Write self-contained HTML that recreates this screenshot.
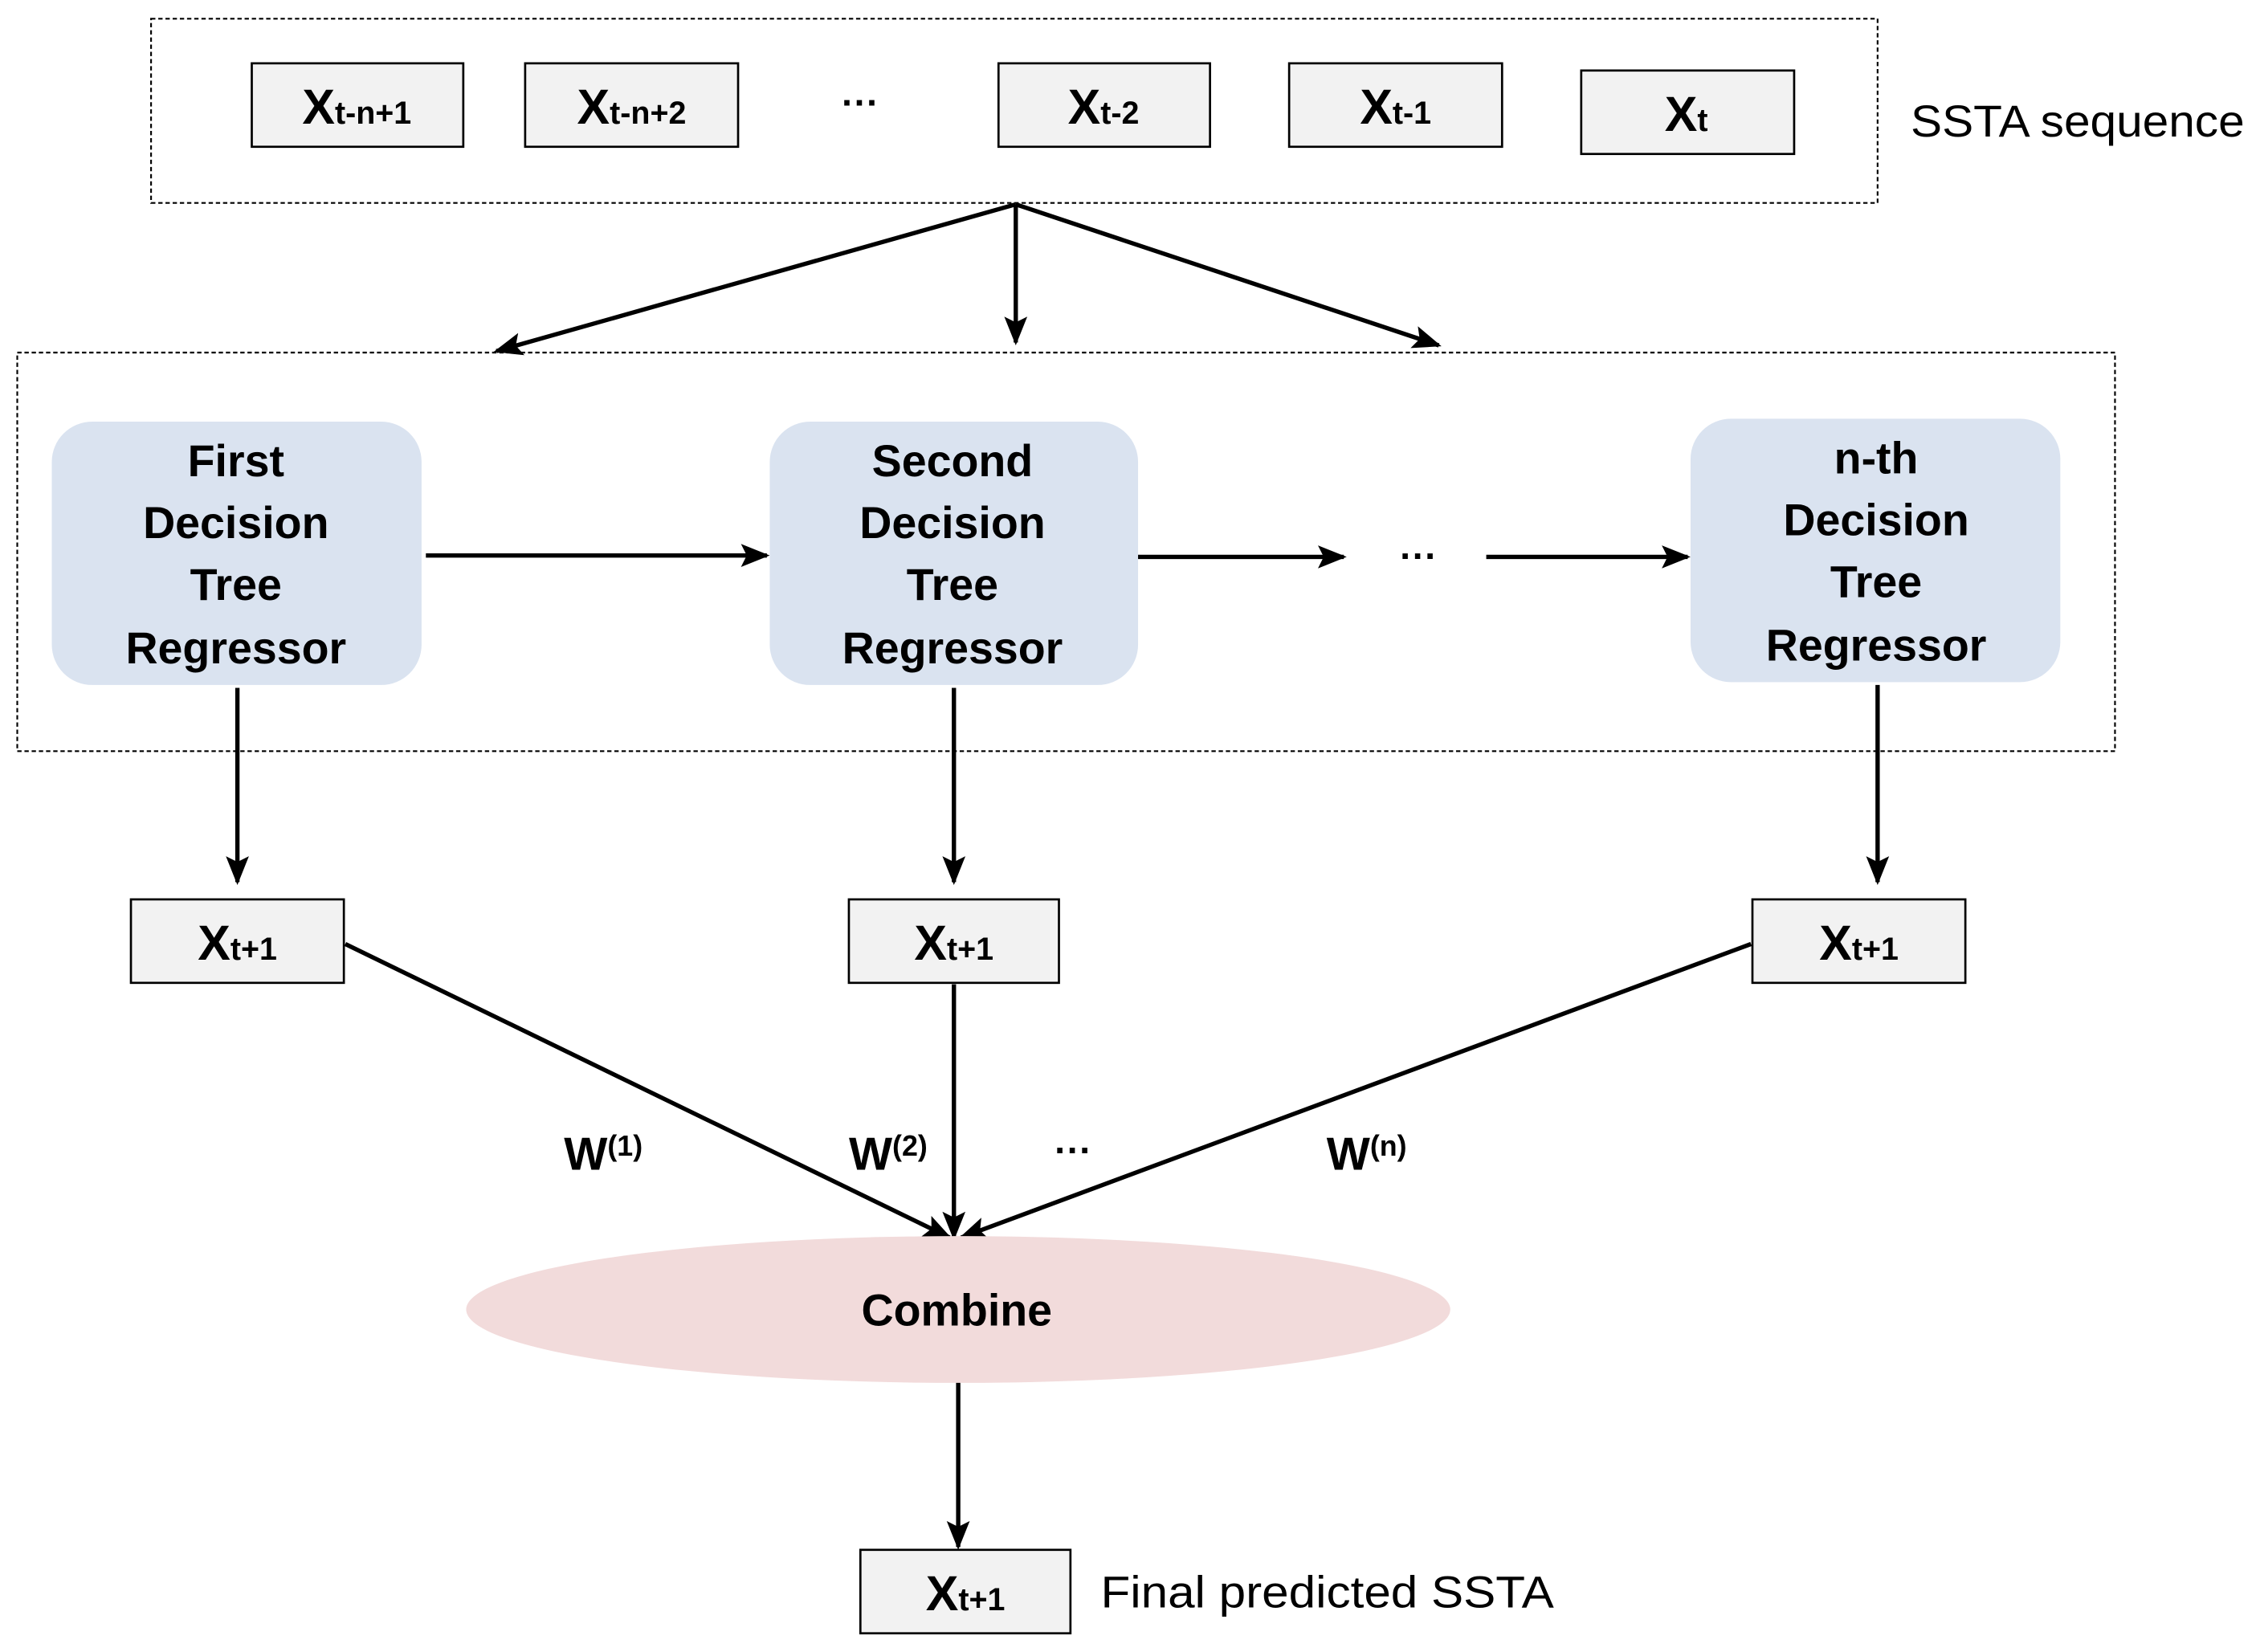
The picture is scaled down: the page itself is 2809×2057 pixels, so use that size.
<!DOCTYPE html>
<html><head><meta charset="utf-8"><style>
html,body{margin:0;padding:0;background:#fff}
svg{display:block}
text{font-family:"Liberation Sans",sans-serif}
</style></head><body>
<svg width="2809" height="2057" viewBox="0 0 1568 1148" preserveAspectRatio="none" xmlns="http://www.w3.org/2000/svg">
<defs>
<marker id="b" markerWidth="20" markerHeight="20" refX="18" refY="10" orient="auto" markerUnits="userSpaceOnUse" viewBox="0 0 20 20">
<path d="M0,2 L20,10 L0,18 L4,10 z" fill="#000"/></marker>
</defs>
<g fill="none" stroke="#000" stroke-width="1.2" stroke-dasharray="3,2">
<rect x="105" y="13" width="1200" height="128"/>
<rect x="12" y="245" width="1458" height="277"/>
</g>
<g fill="#f2f2f2" stroke="#000" stroke-width="1.5">
<rect x="175" y="44" width="147" height="58"/>
<rect x="365" y="44" width="148" height="58"/>
<rect x="694" y="44" width="147" height="58"/>
<rect x="896" y="44" width="148" height="58"/>
<rect x="1099" y="49" width="148" height="58"/>
<rect x="91" y="625" width="148" height="58"/>
<rect x="590" y="625" width="146" height="58"/>
<rect x="1218" y="625" width="148" height="58"/>
<rect x="598" y="1077" width="146" height="58"/>
</g>
<g font-weight="bold" font-size="34" text-anchor="middle">
<text x="248" y="86">X<tspan font-size="22">t-n+1</tspan></text>
<text x="439" y="86">X<tspan font-size="22">t-n+2</tspan></text>
<text x="767" y="86">X<tspan font-size="22">t-2</tspan></text>
<text x="970" y="86">X<tspan font-size="22">t-1</tspan></text>
<text x="1172" y="91">X<tspan font-size="22">t</tspan></text>
<text x="165" y="667">X<tspan font-size="22">t+1</tspan></text>
<text x="663" y="667">X<tspan font-size="22">t+1</tspan></text>
<text x="1292" y="667">X<tspan font-size="22">t+1</tspan></text>
<text x="671" y="1119">X<tspan font-size="22">t+1</tspan></text>
<text x="598" y="80" font-size="26">···</text>
<text x="986" y="395" font-size="26">···</text>
<text x="746" y="808" font-size="26">···</text>
</g>
<text x="1328" y="95" font-size="31" textLength="232" lengthAdjust="spacingAndGlyphs">SSTA sequence</text>
<text x="765" y="1117" font-size="31" textLength="315" lengthAdjust="spacingAndGlyphs">Final predicted SSTA</text>
<g stroke="#000" stroke-width="3" fill="none">
<line x1="706" y1="142" x2="345" y2="244" marker-end="url(#b)"/>
<line x1="706" y1="142" x2="706" y2="238" marker-end="url(#b)"/>
<line x1="706" y1="142" x2="1000" y2="240" marker-end="url(#b)"/>
<line x1="296" y1="386" x2="533" y2="386" marker-end="url(#b)"/>
<line x1="790" y1="387" x2="934" y2="387" marker-end="url(#b)"/>
<line x1="1033" y1="387" x2="1173" y2="387" marker-end="url(#b)"/>
<line x1="165" y1="478" x2="165" y2="613" marker-end="url(#b)"/>
<line x1="663" y1="478" x2="663" y2="613" marker-end="url(#b)"/>
<line x1="1305" y1="476" x2="1305" y2="613" marker-end="url(#b)"/>
<line x1="240" y1="656" x2="660" y2="860" marker-end="url(#b)"/>
<line x1="663" y1="684" x2="663" y2="860" marker-end="url(#b)"/>
<line x1="1217" y1="656" x2="668" y2="860" marker-end="url(#b)"/>
<line x1="666" y1="960" x2="666" y2="1075" marker-end="url(#b)"/>
</g>
<g fill="#dae3f0">
<rect x="36" y="293" width="257" height="183" rx="28"/>
<rect x="535" y="293" width="256" height="183" rx="28"/>
<rect x="1175" y="291" width="257" height="183" rx="28"/>
</g>
<ellipse cx="666" cy="910" rx="342" ry="51" fill="#f2dbdb"/>
<g font-weight="bold" font-size="31" text-anchor="middle">
<text x="164" y="331">First</text><text x="164" y="374">Decision</text><text x="164" y="417">Tree</text><text x="164" y="461">Regressor</text>
<text x="662" y="331">Second</text><text x="662" y="374">Decision</text><text x="662" y="417">Tree</text><text x="662" y="461">Regressor</text>
<text x="1304" y="329">n-th</text><text x="1304" y="372">Decision</text><text x="1304" y="415">Tree</text><text x="1304" y="459">Regressor</text>
<text x="665" y="921">Combine</text>
</g>
<g font-weight="bold" font-size="32">
<text x="392" y="813">W<tspan font-size="20" dy="-10">(1)</tspan></text>
<text x="590" y="813">W<tspan font-size="20" dy="-10">(2)</tspan></text>
<text x="922" y="813">W<tspan font-size="20" dy="-10">(n)</tspan></text>
</g>
</svg>
</body></html>
